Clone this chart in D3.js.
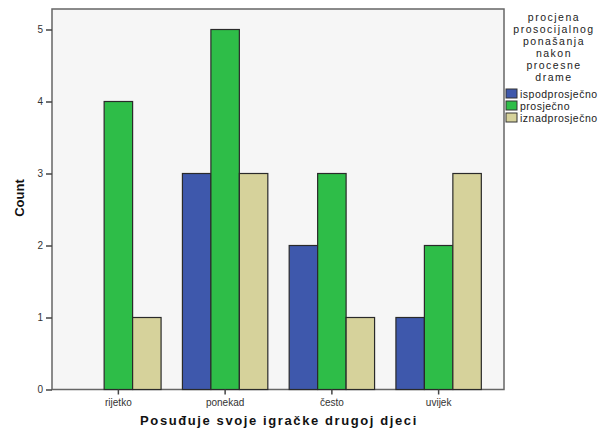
<!DOCTYPE html>
<html><head><meta charset="utf-8">
<script src="https://cdn.jsdelivr.net/npm/d3@7"></script>
<style>body{margin:0;background:#fff}svg{display:block;font-family:"Liberation Sans",Arial,sans-serif}</style>
</head><body>
<svg id="c" width="601" height="430"></svg>
<script>
const categories = ["rijetko", "ponekad", "često", "uvijek"];
const seriesNames = ["ispodprosječno", "prosječno", "iznadprosječno"];
const ispodprosjecno = [0, 3, 2, 1];
const prosjecno = [4, 5, 3, 2];
const iznadprosjecno = [1, 3, 1, 3];
const seriesColors = ["#3e58ac", "#2ebd48", "#d6d29b"];
const yTicks = [0, 1, 2, 3, 4, 5];
const legendTitle = ["procjena", "prosocijalnog", "ponašanja", "nakon", "procesne", "drame"];
const xTitle = "Posuđuje svoje igračke drugoj djeci";
const yTitle = "Count";

const values = [ispodprosjecno, prosjecno, iznadprosjecno];
const svg = d3.select("#c");
const plot = {l: 52, t: 9, r: 504, b: 389.5};

const x = d3.scaleBand().domain(categories).range([65, 492]).paddingInner(0.2).paddingOuter(0.1);
const x1 = d3.scaleBand().domain(seriesNames).range([0, x.bandwidth()]);
const y = d3.scaleLinear().domain([0, 5]).range([plot.b, plot.b - 5 * 72]);

svg.append("rect").attr("x", plot.l).attr("y", plot.t)
  .attr("width", plot.r - plot.l).attr("height", plot.b - plot.t)
  .attr("fill", "#f6f6f6").attr("stroke", "#666").attr("stroke-width", 1.5);

const data = [];
categories.forEach((c, i) => seriesNames.forEach((s, j) => data.push({c, s, j, v: values[j][i]})));

svg.append("g").selectAll("rect").data(data.filter(d => d.v > 0)).join("rect")
  .attr("x", d => x(d.c) + x1(d.s))
  .attr("y", d => y(d.v))
  .attr("width", x1.bandwidth())
  .attr("height", d => y(0) - y(d.v))
  .attr("fill", d => seriesColors[d.j])
  .attr("stroke", "#2a2a2a").attr("stroke-width", 1.2);

// axes
const ya = svg.append("g").attr("transform", `translate(${plot.l},0)`)
  .call(d3.axisLeft(y).tickValues(yTicks).tickFormat(d3.format("d")).tickSize(6).tickPadding(3));
ya.select(".domain").remove();
ya.selectAll("line").attr("stroke", "#444").attr("stroke-width", 1.5);
ya.selectAll("text").attr("font-size", 10).attr("fill", "#333").attr("font-family", "Liberation Sans, Arial");

const xa = svg.append("g").attr("transform", `translate(0,${plot.b})`)
  .call(d3.axisBottom(x).tickSize(5).tickPadding(4));
xa.select(".domain").remove();
xa.selectAll("line").attr("stroke", "#444").attr("stroke-width", 1.5);
xa.selectAll("text").attr("font-size", 10).attr("fill", "#333").attr("font-family", "Liberation Sans, Arial");

svg.append("text").attr("x", 279).attr("y", 425).attr("text-anchor", "middle")
  .attr("font-size", 13).attr("font-weight", "bold").attr("letter-spacing", 1.6)
  .attr("fill", "#111").text(xTitle);

svg.append("text").attr("transform", "translate(24,198) rotate(-90)").attr("text-anchor", "middle")
  .attr("font-size", 13).attr("font-weight", "bold").attr("fill", "#111").text(yTitle);

// legend
const lg = svg.append("g");
lg.selectAll("text.t").data(legendTitle).join("text").attr("class", "t")
  .attr("x", 554).attr("y", (d, i) => 21 + i * 12).attr("text-anchor", "middle")
  .attr("font-size", 10.5).attr("letter-spacing", 1.5).attr("fill", "#222").text(d => d);
const items = lg.selectAll("g.i").data(seriesNames).join("g").attr("class", "i")
  .attr("transform", (d, i) => `translate(506,${89 + i * 12})`);
items.append("rect").attr("width", 11).attr("height", 9)
  .attr("fill", (d, i) => seriesColors[i]).attr("stroke", "#333").attr("stroke-width", 1);
items.append("text").attr("x", 14).attr("y", 8.5).attr("font-size", 10.5).attr("letter-spacing", 0.5)
  .attr("fill", "#222").text(d => d);
</script>
</body></html>
